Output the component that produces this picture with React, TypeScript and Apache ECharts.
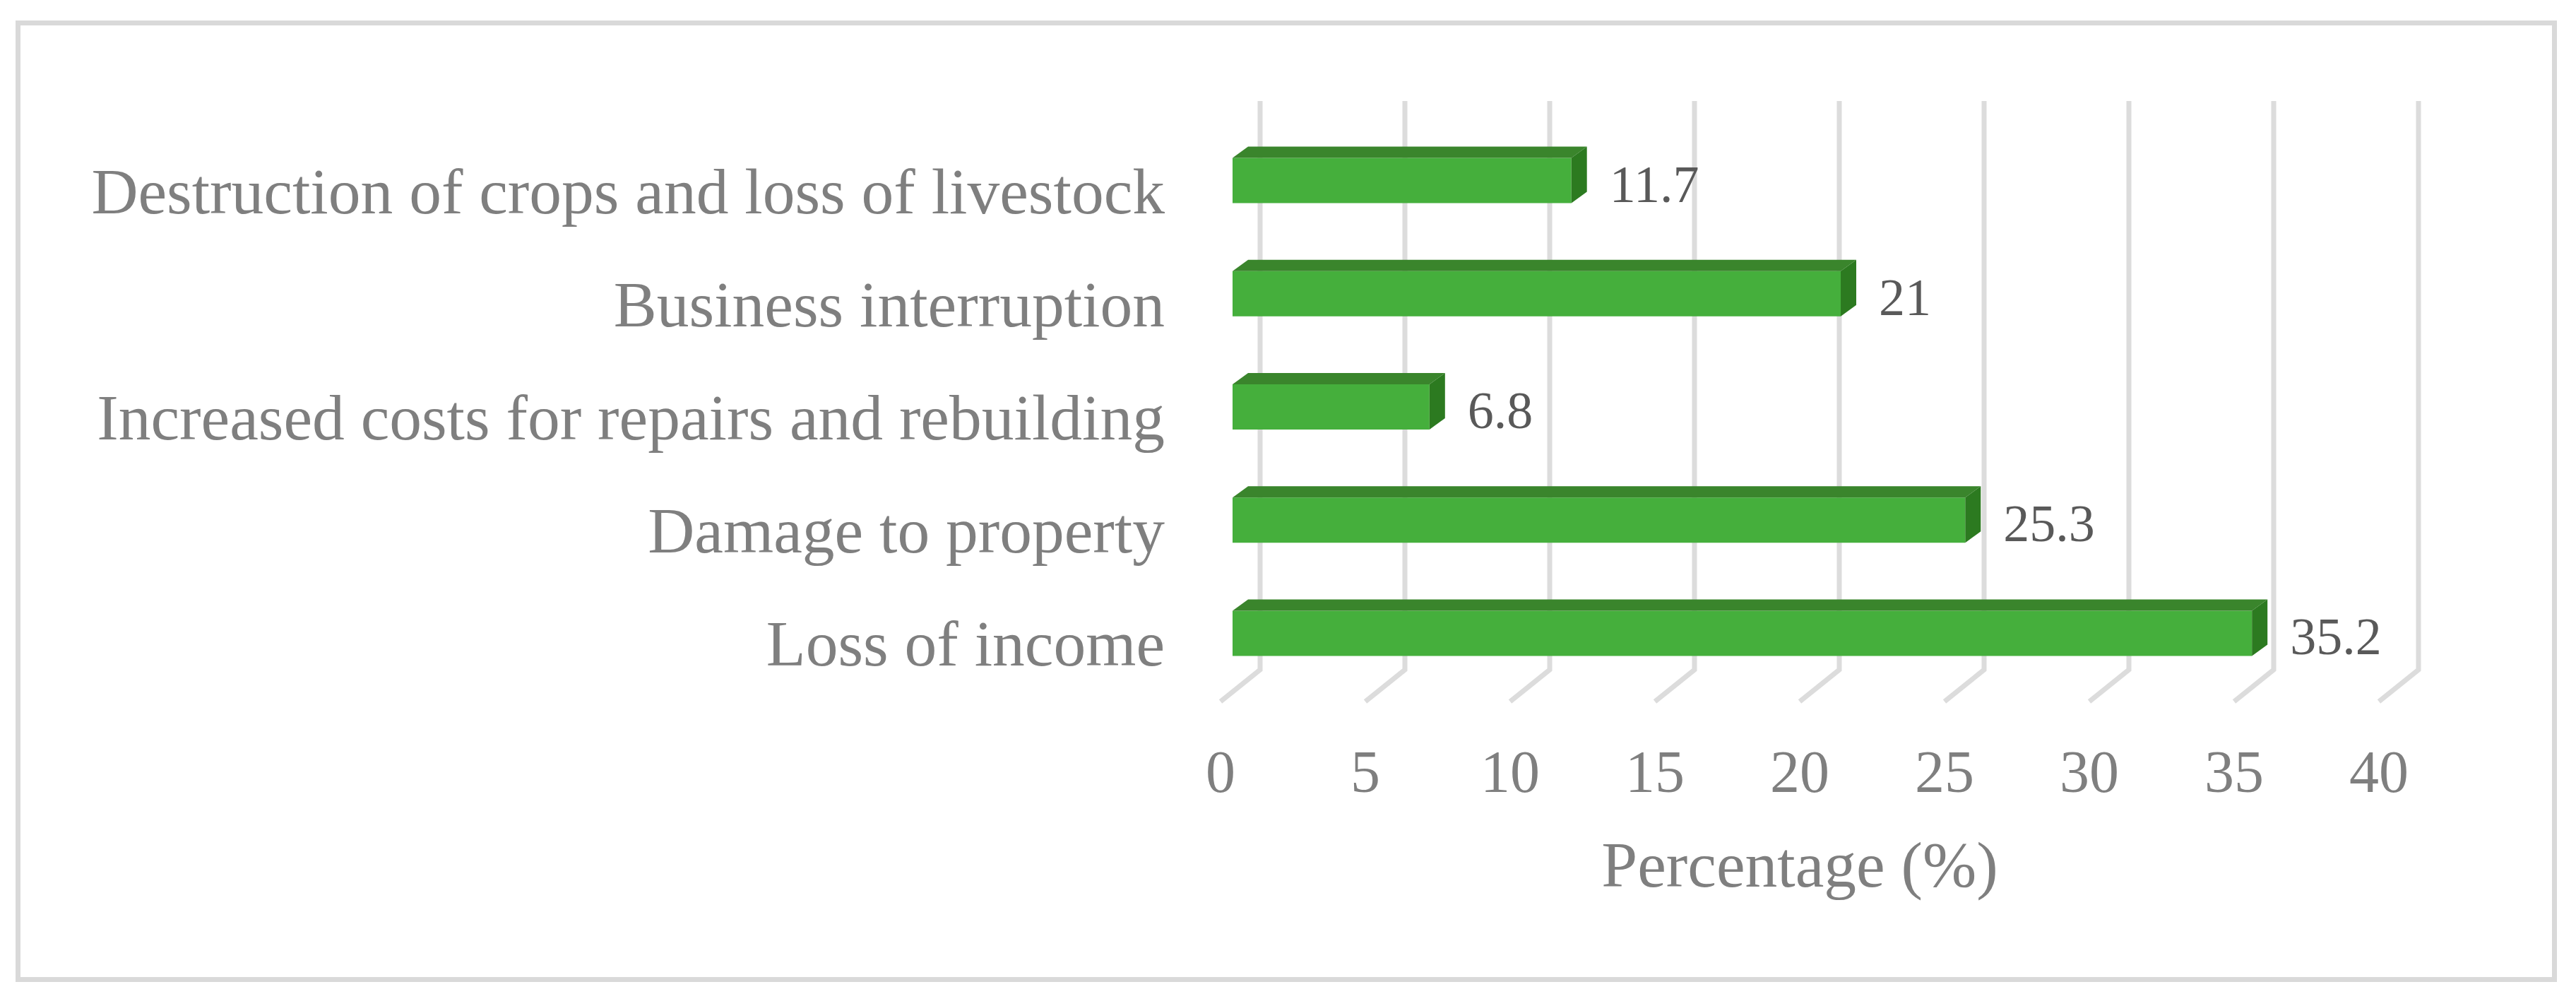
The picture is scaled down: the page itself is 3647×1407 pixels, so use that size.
import React, { useEffect, useRef } from "react";
import * as echarts from "echarts";

const categories = [
  "Loss of income",
  "Damage to property",
  "Increased costs for repairs and rebuilding",
  "Business interruption",
  "Destruction of crops and loss of livestock",
];
const percentages = [35.2, 25.3, 6.8, 21, 11.7];
const ticks = [0, 5, 10, 15, 20, 25, 30, 35, 40];
const axisTitle = "Percentage (%)";

const W = 3647;
const H = 1407;
const FONT = '"Liberation Serif", "Times New Roman", serif';
const FLOOR_DX = 17;
const BACK_DX = 56;
const DX = 22;
const DY = 16;
const FRONT_H = 64;

export default function App() {
  const ref = useRef<HTMLDivElement>(null);
  useEffect(() => {
    const chart = echarts.init(ref.current!, null, { renderer: "svg" });
    chart.setOption({
      animation: false,
      backgroundColor: "#ffffff",
      grid: { left: 1728, width: 1640, top: 175.5, height: 801, containLabel: false },
      xAxis: {
        type: "value",
        min: 0,
        max: 40,
        interval: 5,
        axisLine: { show: false },
        axisTick: { show: false },
        splitLine: { show: false },
        axisLabel: { color: "#7f7f7f", fontFamily: FONT, fontSize: 84, margin: 74 },
        name: axisTitle,
        nameLocation: "middle",
        nameGap: 201,
        nameTextStyle: { color: "#7f7f7f", fontFamily: FONT, fontSize: 91.5 },
      },
      yAxis: {
        type: "category",
        data: categories,
        axisLine: { show: false },
        axisTick: { show: false },
        splitLine: { show: false },
        axisLabel: {
          color: "#7f7f7f",
          fontFamily: FONT,
          fontSize: 91.5,
          margin: 79,
          verticalAlign: "top",
          lineHeight: 30,
        },
      },
      graphic: [
        {
          type: "rect",
          z: -10,
          shape: { x: 25.5, y: 32.5, width: 3591, height: 1354 },
          style: { fill: "#ffffff", stroke: "#d9d9d9", lineWidth: 7 },
        },
      ],
      series: [
        {
          type: "custom",
          z: 1,
          clip: false,
          silent: true,
          data: ticks.map((t) => [t, 0]),
          encode: { x: 0, y: 1 },
          renderItem: (_p: any, api: any) => {
            const [x] = api.coord([api.value(0), 0]);
            return {
              type: "polyline",
              shape: {
                points: [
                  [x + BACK_DX, 143],
                  [x + BACK_DX, 948],
                  [x, 993],
                ],
              },
              style: { stroke: "#dcdcdc", lineWidth: 7, fill: "none" },
            };
          },
        },
        {
          type: "custom",
          z: 2,
          clip: false,
          silent: true,
          data: percentages.map((v, i) => [v, i]),
          encode: { x: 0, y: 1 },
          renderItem: (_p: any, api: any) => {
            const v = api.value(0);
            const [xe, yc] = api.coord([v, api.value(1)]);
            const [x00] = api.coord([0, 0]);
            const x0 = x00 + FLOOR_DX;
            const x1 = xe + FLOOR_DX;
            const t = yc - FRONT_H / 2;
            const b = yc + FRONT_H / 2;
            return {
              type: "group",
              children: [
                {
                  type: "rect",
                  shape: { x: x0, y: t, width: x1 - x0, height: FRONT_H },
                  style: { fill: "#45af3c" },
                },
                {
                  type: "polygon",
                  shape: { points: [[x0, t], [x0 + DX, t - DY], [x1 + DX, t - DY], [x1, t]] },
                  style: { fill: "#3a852c" },
                },
                {
                  type: "polygon",
                  shape: { points: [[x1, t], [x1 + DX, t - DY], [x1 + DX, b - DY], [x1, b]] },
                  style: { fill: "#2c7a20" },
                },
                {
                  type: "text",
                  style: {
                    x: x1 + DX + 32,
                    y: yc + 5,
                    text: String(v),
                    fill: "#595959",
                    font: `74px ${FONT}`,
                    verticalAlign: "middle",
                    align: "left",
                  },
                },
              ],
            };
          },
        },
      ],
    });
    return () => chart.dispose();
  }, []);
  return (
    <div
      ref={ref}
      style={{ position: "absolute", left: 0, top: 0, width: W, height: H }}
    />
  );
}
